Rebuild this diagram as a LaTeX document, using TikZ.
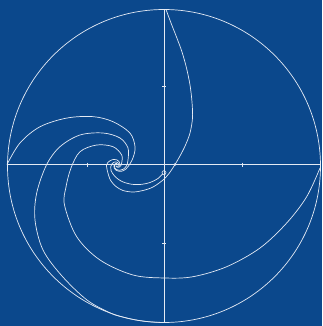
\documentclass[tikz,border=0pt]{standalone}
\definecolor{bgblue}{RGB}{11,72,140}
\definecolor{ln}{RGB}{228,234,244}
\tikzset{
  curve/.style={draw=ln, line width=0.7pt, line join=round},
  axisline/.style={draw=ln, line width=0.8pt},
  tickmark/.style={draw=ln, line width=0.6pt}
}
\begin{document}
\begin{tikzpicture}[x=1pt,y=-1pt]
\fill[bgblue] (0,0) rectangle (322,326);
\useasboundingbox (0,0) rectangle (322,326);
% circle
\draw[curve] (164,166) circle[radius=156.5];
% axes
\draw[axisline] (164,9.5) -- (164,322.5);
\draw[axisline] (7.5,164.5) -- (320.5,164.5);
% ticks
\draw[tickmark] (87,162.5) -- (87,166.5);
\draw[tickmark] (242,162.5) -- (242,166.5);
\draw[tickmark] (162,86) -- (166,86);
\draw[tickmark] (162,243) -- (166,243);
% markers
\draw[curve, line width=0.6pt] (164,172.7) circle[radius=2];
\fill[ln] (175,164.5) circle[radius=1.4];
% spiral trajectories around the sink at (117,165)
\begin{scope}[shift={(117,165)}]
% A (from top)
\draw[curve] plot[smooth, tension=0.55] coordinates {
(49,-155.5) (54,-142) (59.5,-128) (65,-113) (69.5,-97) (73,-80) (75,-63)
(75.5,-47) (73,-32) (68.5,-20) (63.5,-10) (58,-0.5) (52,8.5) (46,15)
(36,22) (26,25.5) (16,27) (6,25.5) (-1,21.5) (-6,16) (-8.5,10)
(180:10.5) (210:8.25) (240:6.49) (270:5.1) (300:4.01)
(330:3.16) (360:2.48) (390:1.95) (420:1.54) (450:1.21)};
% E (from the small circle)
\draw[curve] plot[smooth, tension=0.55] coordinates {
(45.5,9) (41,13.5) (33,17.5) (23,19.5) (13,19) (4,16) (-2.5,11) (-6,5.5)
(165:6.5) (195:5.11) (225:4.02) (255:3.16) (285:2.49) (315:1.96)
(345:1.54) (375:1.21)};
% C (from left)
\draw[curve] plot[smooth, tension=0.55] coordinates {
(-110,-0.5) (192.8:99.5) (206.4:86) (223:68.8) (243.6:54) (264.7:43.5)
(292:34.5) (314.5:25.7) (336:17.5) (368.8:11.1) (400:8.66) (430:6.81)
(460:5.36) (490:4.21) (520:3.31) (550:2.61) (580:2.05) (610:1.61) (640:1.27)};
% D (from bottom)
\draw[curve] plot[smooth, tension=0.55] coordinates {
(47,157.5) (33,156.8) (19.8,155.1) (6.5,152.2) (-6.5,148.1) (-30,135)
(-55,111) (-74,85) (-82,55) (-80.3,28) (-70.3,-0.5) (-57,-18.3) (-37,-30)
(-14,-32) (3,-27) (11,-17) (11,-5) (365:9.54) (395:7.5) (425:5.9) (455:4.64)
(485:3.65) (515:2.87) (545:2.26) (575:1.78) (605:1.4)};
% B (from right)
\draw[curve] plot[smooth, tension=0.55] coordinates {
(203,3) (189.7,31.7) (169.7,58) (143,83) (109.7,101.7) (76,111.7) (48,113)
(16,110) (-17,95) (-40.3,71.7) (-52.5,40) (-51,22) (-46,3) (-37,-13.3)
(-20.3,-20) (-4,-18.3) (4.7,-10) (337:5.1) (367:4.02) (397:3.16) (427:2.48)
(457:1.95) (487:1.54) (517:1.21)};
\end{scope}
\end{tikzpicture}
\end{document}
